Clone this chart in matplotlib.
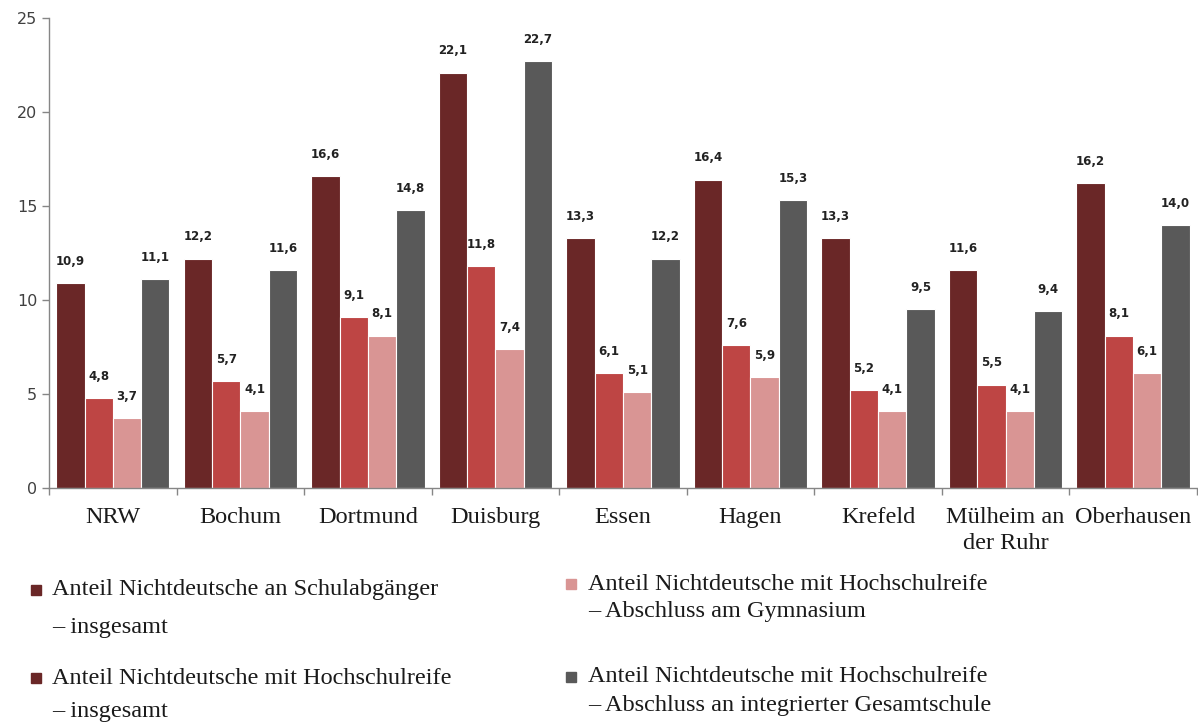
import matplotlib.pyplot as plt
import numpy as np
from matplotlib.patches import Rectangle

# Data
cities = ['NRW', 'Bochum', 'Dortmund', 'Duisburg', 'Essen', 'Hagen', 'Krefeld',
          'Mülheim an\nder Ruhr', 'Oberhausen']
insgesamt = [10.9, 12.2, 16.6, 22.1, 13.3, 16.4, 13.3, 11.6, 16.2]
hochschulreife = [4.8, 5.7, 9.1, 11.8, 6.1, 7.6, 5.2, 5.5, 8.1]
gymnasium = [3.7, 4.1, 8.1, 7.4, 5.1, 5.9, 4.1, 4.1, 6.1]
gesamtschule = [11.1, 11.6, 14.8, 22.7, 12.2, 15.3, 9.5, 9.4, 14.0]

series = [insgesamt, hochschulreife, gymnasium, gesamtschule]
colors = ['#6a2727', '#be4544', '#d99594', '#595959']

fig = plt.figure(figsize=(11.98, 7.23), dpi=100)
ax = fig.add_axes([0.041, 0.325, 0.958, 0.65])

x = np.arange(len(cities))
width = 0.222
offsets = [-1.5, -0.5, 0.5, 1.5]

for vals, col, off in zip(series, colors, offsets):
    bars = ax.bar(x + off * width, vals, width, color=col, edgecolor='white', linewidth=0.8)
    for b, v in zip(bars, vals):
        ax.annotate(f'{v:.1f}'.replace('.', ','), (b.get_x() + b.get_width() / 2, v),
                    xytext=(0, 11), textcoords='offset points', ha='center', va='bottom',
                    fontsize=8.5, fontweight='bold', color='#222222')

ax.set_xlim(-0.5, len(cities) - 0.5)
ax.set_ylim(0, 25)
ax.set_yticks([0, 5, 10, 15, 20, 25])
ax.tick_params(axis='y', labelsize=11.5, labelcolor='#404040', color='#868686', length=5, width=1)

# group boundary ticks + centered labels
ax.set_xticks(np.arange(len(cities) + 1) - 0.5)
ax.set_xticklabels([])
ax.tick_params(axis='x', which='major', color='#868686', length=5, width=1)
ax.set_xticks(x, minor=True)
ax.set_xticklabels(cities, minor=True, fontsize=17.5, family='Liberation Serif',
                   color='#1a1a1a', linespacing=1.3)
ax.tick_params(axis='x', which='minor', length=0, pad=14)

for s in ['top', 'right']:
    ax.spines[s].set_visible(False)
for s in ['left', 'bottom']:
    ax.spines[s].set_color('#868686')
    ax.spines[s].set_linewidth(1)

# legend, laid out like the original
W, H = 1198, 723
legend_items = [
    (colors[0], 36, 590, 52, ['Anteil Nichtdeutsche an Schulabgänger', '– insgesamt'], 37),
    (colors[0], 36, 678, 52, ['Anteil Nichtdeutsche mit Hochschulreife', '– insgesamt'], 34),
    (colors[2], 571, 584, 588, ['Anteil Nichtdeutsche mit Hochschulreife', '– Abschluss am Gymnasium'], 28),
    (colors[3], 571, 677, 588, ['Anteil Nichtdeutsche mit Hochschulreife', '– Abschluss an integrierter Gesamtschule'], 28),
]
for col, mx, my, tx, lines, gap in legend_items:
    fig.patches.append(Rectangle(((mx - 5) / W, 1 - (my + 5) / H), 10 / W, 10 / H,
                                 transform=fig.transFigure, color=col))
    for i, line in enumerate(lines):
        fig.text(tx / W, 1 - (my + i * gap) / H, line, fontsize=17.5, family='Liberation Serif',
                 color='#1a1a1a', va='center', ha='left')

plt.savefig('out.png', dpi=100)
